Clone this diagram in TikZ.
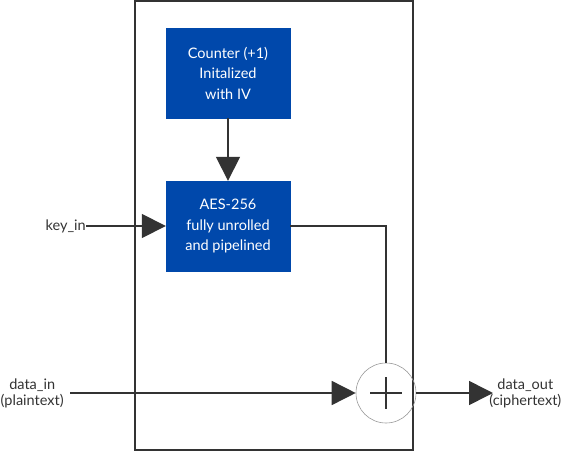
\documentclass[tikz,border=0pt]{standalone}
\usepackage{fontspec}
\setmainfont{Lato}
\usetikzlibrary{arrows.meta,calc}
\definecolor{blk}{HTML}{0048AB}
\definecolor{ln}{HTML}{333333}
\tikzset{
  x=1pt,y=-1pt,
  blue box/.style={draw=blk, fill=blk, text=white, minimum width=124pt, minimum height=90pt, align=center, inner sep=0pt, font=\fontsize{14.5}{20.5}\selectfont},
  wire/.style={draw=ln, line width=1.6pt},
  arr/.style={wire, -{Triangle[length=24pt,width=24pt]}},
  lbl/.style={align=center, font=\fontsize{14.5}{16}\selectfont, text=ln, inner sep=0pt}
}
\begin{document}
\begin{tikzpicture}
\useasboundingbox (0,0) rectangle (562,452);
\draw[wire] (135,1) rectangle (413,450);
\node[blue box] (ctr) at (228,73) {Counter (+1)\\Initalized\\with IV};
\node[blue box] (aes) at (228,226) {AES-256\\fully unrolled\\and pipelined};
\node[circle, draw=gray!80, line width=0.6pt, minimum size=60pt, inner sep=0pt] (xor) at (386,393) {};
\draw[ln, line width=1.4pt] ($(xor.center)+(-16,0)$) -- ($(xor.center)+(16,0)$)
  ($(xor.center)+(0,-16)$) -- ($(xor.center)+(0,16)$);
\node[lbl, anchor=east] (key) at (86,226) {key\_in};
\node[lbl, anchor=west] (din) at (0.5,393) {data\_in\\(plaintext)};
\node[lbl, anchor=east] (dout) at (561.5,393) {data\_out\\(ciphertext)};
\coordinate (dinend) at (70,393);
\coordinate (dout0) at (493,393);
\coordinate (bend) at (386,226);
\draw[arr] (ctr.south) -- (aes.north);
\draw[arr] (key.east) -- (aes.west);
\draw[wire] (aes.east) -- (bend) -- (xor.north);
\draw[arr] (dinend) -- (xor.west);
\draw[arr] (xor.east) -- (dout0);
\end{tikzpicture}
\end{document}
